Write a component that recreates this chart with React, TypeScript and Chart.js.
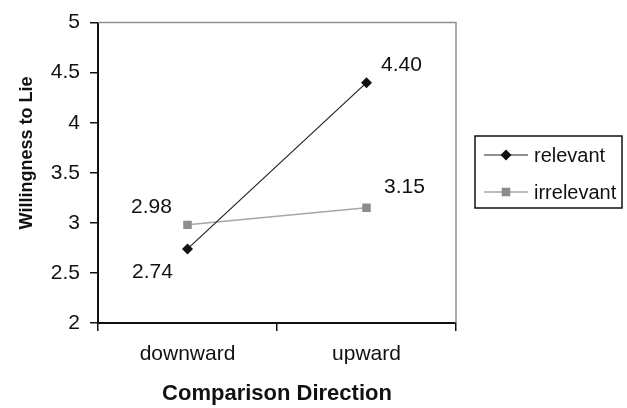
import React, { useEffect, useRef } from "react";
import { Chart, registerables } from "chart.js";

Chart.register(...registerables);

// Comparison direction on the x axis
const categories = ["downward", "upward"];

// Mean willingness to lie per condition
const relevantValues = [2.74, 4.4];
const irrelevantValues = [2.98, 3.15];

const seriesNames = ["relevant", "irrelevant"];

const yMin = 2;
const yMax = 5;
const yStep = 0.5;

const xTitle = "Comparison Direction";
const yTitle = "Willingness to Lie";

const FONT = "'Liberation Sans', Arial, Helvetica, sans-serif";

// Where each value label sits relative to its point (per dataset, per point)
const labelOffsets = [
  [
    { dx: -35, dy: 23 },
    { dx: 35, dy: -17 },
  ],
  [
    { dx: -36, dy: -18 },
    { dx: 38, dy: -21 },
  ],
];

const valueLabels = {
  id: "valueLabels",
  afterDatasetsDraw(chart: any) {
    const { ctx } = chart;
    ctx.save();
    ctx.font = `21px ${FONT}`;
    ctx.fillStyle = "#111";
    ctx.textAlign = "center";
    ctx.textBaseline = "middle";
    chart.data.datasets.forEach((ds: any, di: number) => {
      const meta = chart.getDatasetMeta(di);
      meta.data.forEach((pt: any, i: number) => {
        const off = labelOffsets[di][i];
        ctx.fillText(Number(ds.data[i]).toFixed(2), pt.x + off.dx, pt.y + off.dy);
      });
    });
    ctx.restore();
  },
};

// Grey plot-area frame on the top and right edges, plus the rotated y title
const frameAndTitle = {
  id: "frameAndTitle",
  beforeDatasetsDraw(chart: any) {
    const { ctx, chartArea: a } = chart;
    ctx.save();
    ctx.strokeStyle = "#8f8f8f";
    ctx.lineWidth = 1.5;
    ctx.beginPath();
    ctx.moveTo(a.left, a.top);
    ctx.lineTo(a.right, a.top);
    ctx.lineTo(a.right, a.bottom);
    ctx.stroke();
    ctx.restore();
  },
  afterDraw(chart: any) {
    const { ctx } = chart;
    ctx.save();
    ctx.translate(27, 153);
    ctx.rotate(-Math.PI / 2);
    ctx.font = `bold 18px ${FONT}`;
    ctx.fillStyle = "#111";
    ctx.textAlign = "center";
    ctx.textBaseline = "middle";
    ctx.fillText(yTitle, 0, 0);
    ctx.restore();
  },
};

// Boxed legend with line-and-marker samples
const boxedLegend = {
  id: "boxedLegend",
  afterDraw(chart: any) {
    const { ctx } = chart;
    const box = { x: 475, y: 136, w: 147, h: 72 };
    ctx.save();
    ctx.strokeStyle = "#111";
    ctx.lineWidth = 1.5;
    ctx.strokeRect(box.x, box.y, box.w, box.h);
    const rows = [155, 192];
    chart.data.datasets.forEach((ds: any, i: number) => {
      const y = rows[i];
      ctx.strokeStyle = ds.borderColor;
      ctx.lineWidth = ds.borderWidth;
      ctx.beginPath();
      ctx.moveTo(484, y);
      ctx.lineTo(528, y);
      ctx.stroke();
      ctx.fillStyle = ds.pointBackgroundColor;
      const cx = 506;
      if (ds.pointStyle === "rectRot") {
        const r = ds.pointRadius;
        ctx.beginPath();
        ctx.moveTo(cx, y - r);
        ctx.lineTo(cx + r, y);
        ctx.lineTo(cx, y + r);
        ctx.lineTo(cx - r, y);
        ctx.closePath();
        ctx.fill();
      } else {
        const s = ds.pointRadius * Math.SQRT1_2;
        ctx.fillRect(cx - s, y - s, 2 * s, 2 * s);
      }
      ctx.fillStyle = "#111";
      ctx.font = `20px ${FONT}`;
      ctx.textAlign = "left";
      ctx.textBaseline = "middle";
      ctx.fillText(ds.label, 534, y + 1);
    });
    ctx.restore();
  },
};

export default function App() {
  const canvasRef = useRef<HTMLCanvasElement | null>(null);

  useEffect(() => {
    document.body.style.margin = "0";
    const canvas = canvasRef.current;
    if (!canvas) return;
    const chart = new Chart(canvas, {
      type: "line",
      data: {
        labels: categories,
        datasets: [
          {
            label: seriesNames[0],
            data: relevantValues,
            borderColor: "#222222",
            borderWidth: 1.2,
            pointStyle: "rectRot",
            pointRadius: 5.5,
            pointBackgroundColor: "#111111",
            pointBorderColor: "#111111",
            pointBorderWidth: 0,
            tension: 0,
          },
          {
            label: seriesNames[1],
            data: irrelevantValues,
            borderColor: "#a6a6a6",
            borderWidth: 1.5,
            pointStyle: "rect",
            pointRadius: 6,
            pointBackgroundColor: "#8c8c8c",
            pointBorderColor: "#8c8c8c",
            pointBorderWidth: 0,
            tension: 0,
          },
        ],
      },
      options: {
        responsive: false,
        animation: false,
        layout: { padding: { top: 20, right: 171, left: 0, bottom: 0 } },
        plugins: {
          legend: { display: false },
          tooltip: { enabled: false },
        },
        scales: {
          x: {
            type: "category",
            offset: true,
            grid: {
              offset: true,
              drawOnChartArea: false,
              drawTicks: true,
              tickLength: 8,
              color: "#111",
              lineWidth: 1.5,
            },
            border: { display: true, color: "#111", width: 2 },
            ticks: {
              color: "#111",
              padding: 11,
              maxRotation: 0,
              font: { family: FONT, size: 21 },
            },
            title: {
              display: true,
              text: xTitle,
              color: "#111",
              padding: { top: 0, bottom: 1 },
              font: { family: FONT, size: 22, weight: "bold" },
            },
            afterFit(scale: any) {
              scale.height = 85;
            },
          },
          y: {
            min: yMin,
            max: yMax,
            grid: {
              drawOnChartArea: false,
              drawTicks: true,
              tickLength: 8,
              color: "#111",
              lineWidth: 1.5,
            },
            border: { display: true, color: "#111", width: 2 },
            ticks: {
              stepSize: yStep,
              color: "#111",
              padding: 10,
              font: { family: FONT, size: 21 },
              callback: (v: any) => `${Number(v)}`,
            },
            afterFit(scale: any) {
              scale.width = 98;
            },
          },
        },
      },
      plugins: [frameAndTitle, valueLabels, boxedLegend],
    });
    return () => chart.destroy();
  }, []);

  return (
    <div style={{ width: 627, height: 408, background: "#fff" }}>
      <canvas ref={canvasRef} width={627} height={408} />
    </div>
  );
}
